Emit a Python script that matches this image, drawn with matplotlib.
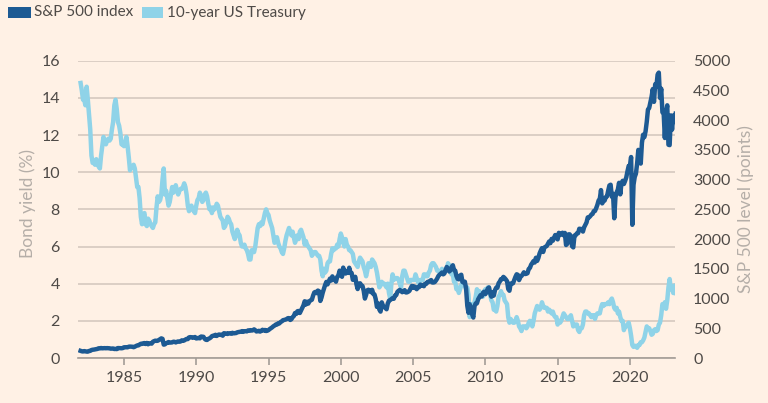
import numpy as np
import matplotlib
matplotlib.use("Agg")
import matplotlib.pyplot as plt
from matplotlib.patches import Rectangle

# monthly values, Jan 1982 .. Mar 2023
start_year = 1982

treasury_yield = [
    14.8, 14.4, 13.9, 13.9, 13.6, 14.6, 13.9, 13.1, 12.3, 10.9, 10.5, 10.5,   # 1982
    10.4, 10.7, 10.5, 10.3, 10.2, 10.9, 11.4, 11.9, 11.6, 11.5, 11.7, 11.8,   # 1983
    11.7, 11.8, 12.3, 12.7, 13.6, 13.9, 13.4, 12.7, 12.5, 12.1, 11.5, 11.5,   # 1984
    11.4, 11.6, 11.9, 11.4, 10.8, 10.1, 10.3, 10.3, 10.4, 10.2, 9.7, 9.2,     # 1985
    9.2, 8.6, 7.6, 7.2, 7.7, 7.8, 7.2, 7.1, 7.5, 7.4, 7.2, 7.1,               # 1986
    7.0, 7.2, 7.3, 8.1, 8.7, 8.4, 8.5, 8.8, 9.6, 10.2, 8.8, 9.0,              # 1987
    8.6, 8.2, 8.4, 8.8, 9.2, 8.9, 9.1, 9.3, 9.0, 8.8, 9.0, 9.1,               # 1988
    9.1, 9.2, 9.4, 9.2, 8.8, 8.2, 7.9, 8.1, 8.2, 8.0, 7.9, 7.8,               # 1989
    8.2, 8.5, 8.6, 8.9, 8.7, 8.4, 8.5, 8.8, 8.9, 8.7, 8.3, 8.0,               # 1990
    8.1, 7.8, 8.1, 8.0, 8.1, 8.3, 8.2, 7.9, 7.6, 7.5, 7.4, 7.0,               # 1991
    7.1, 7.3, 7.6, 7.5, 7.3, 7.2, 6.8, 6.6, 6.4, 6.6, 6.9, 6.7,               # 1992
    6.6, 6.2, 6.0, 6.0, 6.1, 5.9, 5.8, 5.6, 5.3, 5.3, 5.8, 5.8,               # 1993
    5.7, 6.0, 6.5, 7.0, 7.2, 7.1, 7.3, 7.2, 7.5, 7.8, 8.0, 7.8,               # 1994
    7.7, 7.4, 7.2, 7.0, 6.6, 6.2, 6.3, 6.5, 6.2, 6.0, 5.9, 5.7,               # 1995
    5.6, 5.9, 6.3, 6.6, 6.8, 7.0, 6.8, 6.6, 6.8, 6.5, 6.2, 6.4,               # 1996
    6.6, 6.4, 6.8, 6.9, 6.7, 6.5, 6.1, 6.3, 6.1, 6.0, 5.9, 5.8,               # 1997
    5.5, 5.6, 5.7, 5.7, 5.6, 5.5, 5.5, 5.3, 4.7, 4.4, 4.8, 4.6,               # 1998
    4.7, 5.1, 5.2, 5.2, 5.6, 5.9, 5.8, 5.9, 5.9, 6.1, 6.0, 6.4,               # 1999
    6.7, 6.5, 6.2, 6.0, 6.4, 6.1, 6.0, 5.8, 5.8, 5.7, 5.6, 5.2,               # 2000
    5.1, 5.0, 4.9, 5.2, 5.4, 5.3, 5.2, 4.9, 4.7, 4.4, 4.7, 5.1,               # 2001
    5.0, 4.9, 5.3, 5.2, 5.1, 4.9, 4.6, 4.2, 3.8, 3.9, 4.1, 4.0,               # 2002
    4.0, 3.9, 3.8, 4.0, 3.5, 3.2, 4.0, 4.5, 4.2, 4.3, 4.3, 4.3,               # 2003
    4.2, 4.0, 3.8, 4.4, 4.7, 4.7, 4.5, 4.3, 4.1, 4.1, 4.2, 4.2,               # 2004
    4.2, 4.2, 4.5, 4.3, 4.1, 4.0, 4.2, 4.2, 4.2, 4.5, 4.5, 4.4,               # 2005
    4.4, 4.6, 4.7, 5.0, 5.1, 5.1, 5.0, 4.9, 4.7, 4.7, 4.6, 4.6,               # 2006
    4.8, 4.6, 4.6, 4.7, 4.8, 5.1, 5.0, 4.6, 4.5, 4.5, 4.1, 4.1,               # 2007
    3.7, 3.8, 3.5, 3.7, 3.9, 4.1, 4.0, 3.9, 3.7, 3.8, 3.4, 2.2,               # 2008
    2.5, 2.9, 2.8, 3.0, 3.3, 3.7, 3.5, 3.6, 3.4, 3.4, 3.3, 3.6,               # 2009
    3.7, 3.7, 3.8, 3.8, 3.4, 3.1, 3.0, 2.6, 2.6, 2.5, 2.8, 3.3,               # 2010
    3.4, 3.6, 3.4, 3.4, 3.1, 3.0, 2.9, 2.2, 1.9, 2.1, 2.0, 1.9,               # 2011
    1.9, 2.0, 2.2, 2.0, 1.7, 1.6, 1.45, 1.7, 1.7, 1.7, 1.6, 1.7,              # 2012
    1.9, 2.0, 1.9, 1.7, 2.0, 2.4, 2.6, 2.8, 2.7, 2.6, 2.7, 3.0,               # 2013
    2.8, 2.7, 2.7, 2.7, 2.5, 2.6, 2.5, 2.4, 2.5, 2.3, 2.2, 2.2,               # 2014
    1.8, 2.0, 1.9, 2.0, 2.2, 2.4, 2.3, 2.2, 2.1, 2.1, 2.2, 2.3,               # 2015
    2.0, 1.7, 1.8, 1.8, 1.8, 1.5, 1.4, 1.6, 1.6, 1.8, 2.3, 2.5,               # 2016
    2.5, 2.4, 2.4, 2.3, 2.2, 2.3, 2.3, 2.1, 2.3, 2.4, 2.4, 2.4,               # 2017
    2.7, 2.9, 2.8, 2.9, 2.9, 2.9, 3.0, 2.9, 3.1, 3.2, 3.0, 2.7,               # 2018
    2.6, 2.7, 2.4, 2.5, 2.2, 2.0, 2.0, 1.5, 1.7, 1.7, 1.8, 1.9,               # 2019
    1.6, 1.2, 0.7, 0.6, 0.65, 0.65, 0.55, 0.7, 0.7, 0.85, 0.85, 0.95,         # 2020
    1.1, 1.4, 1.7, 1.6, 1.6, 1.45, 1.25, 1.3, 1.5, 1.55, 1.45, 1.5,           # 2021
    1.8, 1.9, 2.3, 2.9, 2.8, 3.0, 2.65, 3.1, 3.8, 4.25, 3.7, 3.85,            # 2022
    3.5, 3.9, 3.5,                                                              # 2023
]

sp500_level = [
    120, 113, 110, 116, 112, 108, 107, 118, 120, 134, 139, 141,               # 1982
    145, 148, 153, 164, 162, 168, 163, 164, 166, 164, 166, 165,               # 1983
    163, 157, 159, 160, 151, 153, 150, 167, 166, 166, 164, 167,               # 1984
    180, 181, 181, 180, 190, 192, 191, 189, 182, 190, 202, 211,               # 1985
    212, 227, 239, 236, 247, 251, 236, 253, 231, 244, 249, 242,               # 1986
    274, 284, 292, 288, 290, 304, 319, 330, 322, 225, 230, 247,               # 1987
    257, 268, 259, 261, 262, 274, 272, 262, 272, 279, 274, 278,               # 1988
    297, 289, 295, 310, 321, 318, 346, 351, 349, 340, 346, 353,               # 1989
    329, 332, 340, 331, 361, 358, 356, 323, 306, 304, 322, 330,               # 1990
    344, 367, 375, 375, 390, 371, 388, 395, 388, 392, 375, 417,               # 1991
    409, 413, 404, 415, 415, 408, 424, 414, 418, 419, 431, 436,               # 1992
    439, 443, 452, 440, 450, 451, 448, 464, 459, 468, 462, 466,               # 1993
    482, 467, 446, 451, 457, 444, 458, 475, 463, 472, 454, 459,               # 1994
    470, 487, 501, 515, 533, 545, 562, 562, 584, 582, 605, 616,               # 1995
    636, 640, 646, 654, 669, 671, 640, 652, 687, 705, 757, 741,               # 1996
    786, 791, 757, 801, 848, 885, 954, 899, 947, 915, 955, 970,               # 1997
    980, 1049, 1102, 1112, 1091, 1134, 1121, 960, 1017, 1099, 1164, 1229,     # 1998
    1280, 1238, 1286, 1335, 1302, 1373, 1329, 1320, 1283, 1363, 1389, 1469,   # 1999
    1394, 1366, 1520, 1452, 1421, 1455, 1431, 1518, 1437, 1429, 1315, 1320,   # 2000
    1366, 1240, 1160, 1249, 1256, 1224, 1211, 1134, 1000, 1060, 1139, 1148,   # 2001
    1130, 1107, 1147, 1077, 1067, 990, 860, 916, 815, 780, 936, 880,          # 2002
    856, 841, 820, 917, 964, 975, 990, 1008, 996, 1051, 1058, 1112,           # 2003
    1131, 1145, 1126, 1107, 1121, 1141, 1102, 1104, 1115, 1130, 1174, 1212,   # 2004
    1181, 1204, 1181, 1157, 1192, 1191, 1234, 1220, 1229, 1207, 1249, 1248,   # 2005
    1280, 1281, 1295, 1311, 1270, 1270, 1277, 1304, 1336, 1378, 1401, 1418,   # 2006
    1438, 1407, 1421, 1482, 1531, 1503, 1455, 1474, 1527, 1560, 1481, 1468,   # 2007
    1379, 1331, 1323, 1386, 1400, 1280, 1267, 1283, 1166, 880, 760, 903,      # 2008
    826, 735, 680, 873, 919, 919, 987, 1021, 1057, 1036, 1096, 1115,          # 2009
    1074, 1104, 1169, 1187, 1089, 1031, 1102, 1049, 1141, 1183, 1181, 1258,   # 2010
    1286, 1327, 1326, 1364, 1345, 1321, 1292, 1160, 1131, 1253, 1247, 1258,   # 2011
    1312, 1366, 1408, 1398, 1310, 1362, 1379, 1407, 1441, 1412, 1416, 1426,   # 2012
    1498, 1515, 1569, 1598, 1631, 1606, 1686, 1633, 1682, 1757, 1806, 1848,   # 2013
    1783, 1859, 1872, 1884, 1924, 1960, 1931, 2003, 1972, 2018, 2068, 2059,   # 2014
    1995, 2105, 2068, 2086, 2107, 2063, 2104, 1900, 1920, 2079, 2080, 2044,   # 2015
    1880, 1860, 2060, 2065, 2097, 2099, 2174, 2171, 2168, 2126, 2199, 2239,   # 2016
    2279, 2364, 2363, 2384, 2412, 2423, 2470, 2472, 2519, 2575, 2648, 2674,   # 2017
    2824, 2600, 2641, 2648, 2705, 2718, 2816, 2902, 2914, 2712, 2760, 2350,   # 2018
    2704, 2784, 2834, 2946, 2752, 2942, 2980, 2926, 2977, 3038, 3141, 3231,   # 2019
    3226, 3380, 2240, 2912, 3044, 3100, 3271, 3500, 3363, 3270, 3622, 3756,   # 2020
    3714, 3811, 3973, 4181, 4204, 4298, 4395, 4523, 4308, 4605, 4567, 4766,   # 2021
    4800, 4374, 4530, 4132, 4132, 3700, 4130, 4250, 3586, 3580, 4080, 3840,   # 2022
    4077, 3970, 4109,                                                          # 2023
]

years = start_year + np.arange(len(sp500_level)) / 12
year_ticks = [1985, 1990, 1995, 2000, 2005, 2010, 2015, 2020]
yield_ticks = [0, 2, 4, 6, 8, 10, 12, 14, 16]
sp_ticks = [0, 500, 1000, 1500, 2000, 2500, 3000, 3500, 4000, 4500, 5000]

bg = "#fff1e5"
dark_blue = "#1d5a93"
light_blue = "#8fd3e8"
grid_col = "#d5c9bf"
axis_col = "#a39c96"
text_col = "#4e4a47"
label_col = "#b5aea8"

plt.rcParams["font.family"] = ["Lato", "DejaVu Sans"]

fig = plt.figure(figsize=(7.68, 4.03), dpi=100, facecolor=bg)
ax = fig.add_axes([78/768, 45/403, 597/768, 297.3/403])
ax.set_facecolor(bg)
ax2 = ax.twinx()

ax.plot(years, treasury_yield, color=light_blue, lw=3.2, solid_joinstyle="round")
ax2.plot(years, sp500_level, color=dark_blue, lw=3.2, solid_joinstyle="round")

ax.set_xlim(1981.82, 2023.12)
ax.set_ylim(0, 16)
ax2.set_ylim(0, 5000)

ax.set_yticks(yield_ticks)
ax2.set_yticks(sp_ticks)
ax.set_xticks(year_ticks)
ax.yaxis.grid(True, color=grid_col, lw=1.2)
ax.set_axisbelow(True)

for a in (ax, ax2):
    for s in ("top", "left", "right"):
        a.spines[s].set_visible(False)
ax2.spines["bottom"].set_visible(False)
ax.spines["bottom"].set_color(axis_col)
ax.spines["bottom"].set_linewidth(1.2)

ax.tick_params(axis="x", colors=axis_col, labelcolor=text_col, length=5, width=1.2,
               labelsize=11.5, pad=4)
ax.tick_params(axis="y", length=0, labelcolor=text_col, labelsize=11.5, pad=13)
ax2.tick_params(axis="y", length=0, labelcolor=text_col, labelsize=11.5, pad=13)

fig.text(28/768, 1 - 204/403, "Bond yield (%)", rotation=90, color=label_col,
         fontsize=12.5, ha="center", va="center")
fig.text(746/768, 1 - 209/403, "S&P 500 level (points)", rotation=90, color=label_col,
         fontsize=12.5, ha="center", va="center")

# legend
fig.add_artist(Rectangle((8/768, 1 - 18/403), 23/768, 11/403, transform=fig.transFigure,
                         color=dark_blue, lw=0))
fig.text(34/768, 1 - 12.5/403, "S&P 500 index", color=text_col, fontsize=11, va="center")
fig.add_artist(Rectangle((142/768, 1 - 18/403), 21/768, 11/403, transform=fig.transFigure,
                         color=light_blue, lw=0))
fig.text(167/768, 1 - 12.5/403, "10-year US Treasury", color=text_col, fontsize=11, va="center")

fig.savefig("out.png", dpi=100, facecolor=bg)
